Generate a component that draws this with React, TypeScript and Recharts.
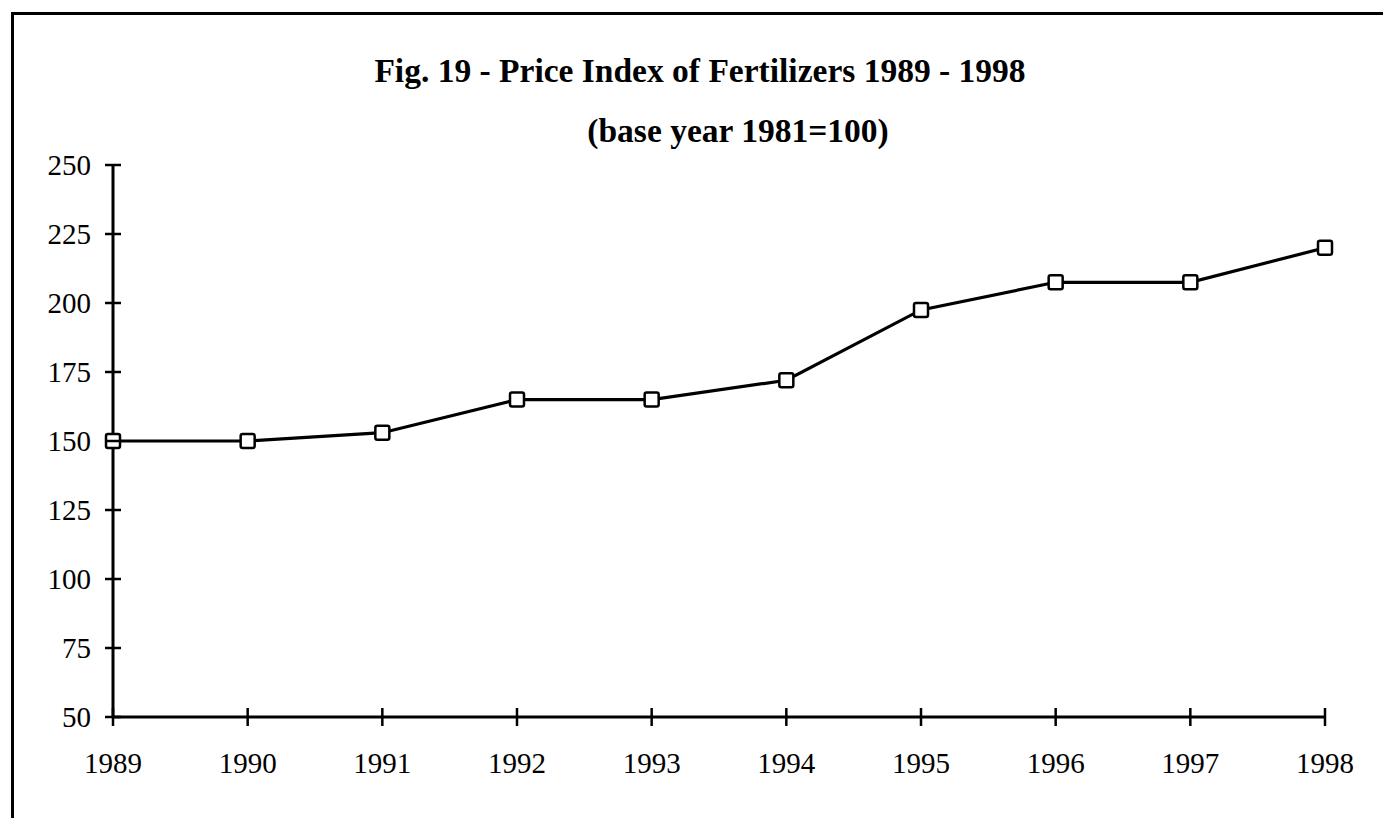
import { CartesianGrid, Line, LineChart, XAxis, YAxis } from "recharts";

const years = ["1989", "1990", "1991", "1992", "1993", "1994", "1995", "1996", "1997", "1998"];
const priceIndex = [150, 150, 153, 165, 165, 172, 197.5, 207.5, 207.5, 220];
const yTicks = [50, 75, 100, 125, 150, 175, 200, 225, 250];

const data = years.map((y, i) => ({ year: y, idx: priceIndex[i] }));

const serif = "'Liberation Serif', 'Times New Roman', serif";

function YTick(props: any) {
  const { x, y, payload } = props;
  return (
    <g>
      <line x1={x - 8} x2={x + 8} y1={y} y2={y} stroke="#000" strokeWidth={2.5} />
      <text x={x - 22} y={y} dy="0.34em" textAnchor="end" fontFamily={serif} fontSize={29} fill="#000">
        {payload.value}
      </text>
    </g>
  );
}

function XTick(props: any) {
  const { x, y, payload } = props;
  return (
    <g>
      <line x1={x} x2={x} y1={y - 9} y2={y + 9} stroke="#000" strokeWidth={2.5} />
      <text x={x} y={y + 56} textAnchor="middle" fontFamily={serif} fontSize={29} fill="#000">
        {payload.value}
      </text>
    </g>
  );
}

function SquareDot(props: any) {
  const { cx, cy } = props;
  if (cx == null || cy == null) return null;
  return (
    <rect x={cx - 7} y={cy - 7} width={14} height={14} rx={2} fill="#fff" stroke="#000" strokeWidth={2.5} />
  );
}

export default function App() {
  return (
    <div style={{ position: "absolute", left: 0, top: 0, width: 1383, height: 818, background: "#fff", overflow: "hidden" }}>
      <div
        style={{
          position: "absolute",
          left: 11,
          top: 12,
          width: 1400,
          height: 900,
          borderTop: "3px solid #000",
          borderLeft: "3px solid #000",
        }}
      />
      <div
        style={{
          position: "absolute",
          left: 300,
          top: 54,
          width: 800,
          textAlign: "center",
          fontFamily: serif,
          fontWeight: "bold",
          fontSize: 33.5,
          lineHeight: "33px",
          whiteSpace: "nowrap",
        }}
      >
        Fig. 19 - Price Index of Fertilizers 1989 - 1998
      </div>
      <div
        style={{
          position: "absolute",
          left: 538,
          top: 114,
          width: 400,
          textAlign: "center",
          fontFamily: serif,
          fontWeight: "bold",
          fontSize: 33.5,
          lineHeight: "33px",
          whiteSpace: "nowrap",
        }}
      >
        (base year 1981=100)
      </div>
      <div style={{ position: "absolute", left: 0, top: 0 }}>
        <LineChart width={1383} height={818} data={data} margin={{ top: 165, right: 58, left: 53, bottom: 71 }}>
          <CartesianGrid stroke="none" />
          <XAxis
            dataKey="year"
            axisLine={{ stroke: "#000", strokeWidth: 3 }}
            tickLine={false}
            tickSize={0}
            tickMargin={0}
            tick={<XTick />}
            interval={0}
            height={30}
          />
          <YAxis
            domain={[50, 250]}
            ticks={yTicks}
            axisLine={{ stroke: "#000", strokeWidth: 3 }}
            tickLine={false}
            tickSize={0}
            tickMargin={0}
            tick={<YTick />}
            interval={0}
            width={60}
          />
          <Line
            type="linear"
            dataKey="idx"
            stroke="#000"
            strokeWidth={3.2}
            dot={<SquareDot />}
            activeDot={false}
            isAnimationActive={false}
          />
        </LineChart>
      </div>
    </div>
  );
}
